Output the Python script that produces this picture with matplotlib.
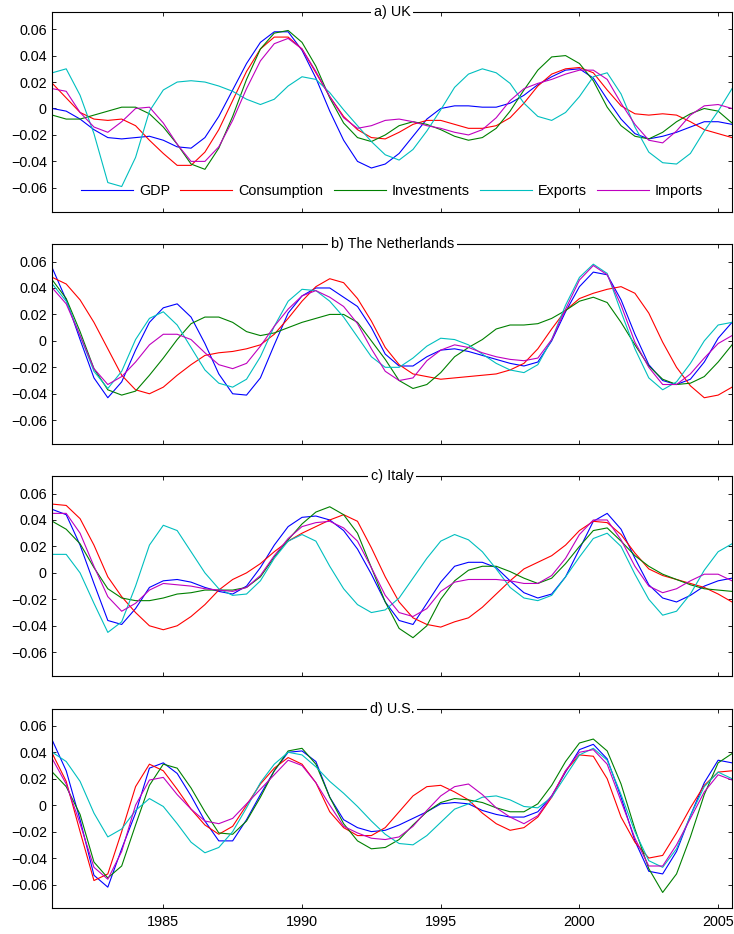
#!/usr/bin/env python3
"""Business-cycle components (GDP, consumption, investments, exports, imports) for four countries."""

import numpy as np
import matplotlib

matplotlib.use("Agg")
import matplotlib.pyplot as plt
from matplotlib.ticker import FuncFormatter

# half-year sampling, values in units of 0.001
years = np.arange(1981.0, 2006.0, 0.5)

uk_gdp = [0, -2, -8, -16, -22, -23, -22, -21, -24, -29,
          -30, -22, -6, 14, 34, 50, 58, 58, 44, 23,
          -2, -24, -40, -45, -42, -34, -21, -8, 0, 2,
          2, 1, 1, 4, 10, 18, 24, 29, 30, 23,
          7, -8, -19, -23, -21, -18, -14, -10, -10, -12]
uk_cons = [19, 8, -3, -8, -9, -8, -13, -24, -34, -43,
           -43, -33, -16, 6, 28, 45, 54, 54, 45, 27,
           9, -6, -16, -22, -23, -18, -12, -9, -9, -12,
           -15, -15, -13, -7, 4, 17, 26, 30, 31, 27,
           14, 2, -4, -5, -4, -5, -10, -16, -19, -22]
uk_inv = [-5, -8, -8, -5, -2, 1, 1, -4, -14, -27,
          -42, -46, -30, -6, 22, 45, 57, 59, 50, 32,
          8, -11, -22, -25, -20, -13, -10, -12, -16, -21,
          -24, -22, -15, -2, 14, 29, 39, 40, 34, 21,
          1, -13, -21, -23, -18, -10, -4, 0, -2, -11]
uk_exp = [27, 30, 10, -19, -56, -59, -37, -2, 14, 20,
          21, 20, 17, 13, 7, 3, 7, 17, 24, 22,
          12, -1, -13, -25, -35, -39, -31, -17, -1, 16,
          26, 30, 27, 19, 4, -6, -9, -3, 9, 24,
          27, 11, -14, -33, -41, -42, -34, -17, -2, 15]
uk_imp = [15, 13, -3, -14, -18, -10, 0, 1, -11, -27,
          -40, -40, -29, -9, 15, 36, 49, 53, 45, 28,
          9, -7, -15, -13, -9, -8, -10, -13, -15, -18,
          -20, -16, -7, 6, 15, 19, 22, 26, 29, 29,
          22, 4, -12, -24, -26, -17, -5, 2, 3, 0]

nl_gdp = [55, 31, 1, -28, -43, -31, -7, 14, 25, 28,
          18, -2, -25, -40, -41, -28, -3, 21, 34, 40,
          40, 33, 26, 10, -10, -19, -19, -12, -7, -6,
          -8, -11, -14, -17, -19, -16, 0, 22, 41, 52,
          50, 31, 5, -18, -30, -33, -29, -16, 2, 14]
nl_cons = [48, 43, 31, 14, -6, -26, -37, -40, -35, -26,
           -18, -11, -9, -8, -6, -3, 5, 17, 30, 41,
           47, 44, 32, 15, -5, -18, -25, -27, -29, -28,
           -27, -26, -25, -22, -17, -6, 9, 23, 32, 36,
           39, 41, 36, 21, -1, -20, -34, -43, -41, -35]
nl_inv = [46, 32, 7, -21, -37, -41, -38, -26, -13, 1,
          13, 18, 18, 14, 7, 4, 6, 10, 14, 17,
          20, 20, 14, 0, -14, -30, -36, -33, -24, -12,
          -5, 1, 9, 12, 12, 13, 17, 23, 30, 33,
          29, 14, -3, -19, -29, -33, -32, -27, -16, -3]
nl_exp = [43, 30, 4, -23, -36, -23, 1, 17, 22, 12,
          -5, -22, -32, -35, -29, -12, 11, 30, 39, 38,
          30, 18, 3, -12, -20, -20, -13, -4, 2, 1,
          -3, -10, -17, -22, -24, -18, 1, 27, 48, 58,
          51, 22, -6, -28, -37, -31, -17, 0, 12, 14]
nl_imp = [40, 28, 4, -21, -33, -27, -16, -3, 5, 5,
          1, -9, -18, -21, -17, -4, 11, 24, 34, 38,
          33, 26, 13, -6, -23, -30, -28, -15, -7, -3,
          -5, -9, -12, -14, -15, -13, 1, 24, 46, 57,
          50, 27, -1, -20, -33, -33, -25, -13, -2, 4]

it_gdp = [48, 44, 21, -8, -36, -39, -27, -11, -6, -5,
          -7, -11, -14, -16, -10, 4, 21, 35, 42, 43,
          40, 32, 18, -1, -22, -36, -39, -23, -7, 5,
          8, 8, 4, -6, -15, -19, -16, -3, 18, 39,
          45, 33, 11, -9, -19, -22, -17, -10, -6, -4]
it_cons = [52, 51, 41, 21, -3, -18, -30, -40, -43, -40,
           -33, -24, -13, -5, 0, 7, 16, 24, 30, 35,
           40, 44, 39, 19, -3, -22, -34, -39, -41, -37,
           -34, -26, -16, -6, 3, 8, 13, 21, 32, 39,
           38, 29, 15, 3, -2, -5, -8, -11, -16, -22]
it_inv = [39, 33, 22, 4, -12, -19, -21, -21, -19, -16,
          -15, -13, -13, -13, -11, -3, 12, 25, 37, 46,
          50, 44, 30, 4, -22, -42, -49, -40, -20, -6,
          2, 5, 5, 1, -4, -8, -4, 7, 20, 32,
          34, 24, 13, 5, -1, -5, -9, -12, -13, -14]
it_exp = [14, 14, 0, -23, -45, -37, -10, 21, 36, 32,
          16, 0, -12, -17, -16, -6, 11, 24, 29, 24,
          5, -12, -24, -30, -28, -19, -4, 11, 24, 29,
          25, 16, 3, -11, -19, -21, -17, -3, 12, 26,
          30, 20, -1, -20, -32, -29, -16, 2, 16, 22]
it_imp = [45, 45, 30, 5, -18, -29, -23, -13, -8, -9,
          -10, -12, -13, -14, -11, -2, 13, 26, 35, 38,
          39, 34, 24, 4, -17, -30, -33, -27, -14, -7,
          -5, -5, -5, -6, -8, -8, -2, 11, 29, 40,
          40, 25, 5, -10, -15, -12, -6, -1, -1, -6]

us_gdp = [49, 26, -11, -53, -62, -33, -6, 28, 32, 24,
          7, -12, -27, -27, -11, 8, 26, 40, 41, 33,
          6, -11, -17, -20, -19, -15, -10, -5, 1, 2,
          1, -4, -7, -9, -9, -5, 7, 25, 42, 46,
          35, 6, -27, -50, -52, -35, -8, 17, 34, 32]
us_cons = [39, 18, -20, -57, -52, -20, 14, 31, 26, 12,
           -3, -15, -22, -16, 0, 16, 28, 36, 31, 17,
           -5, -17, -23, -23, -17, -5, 7, 14, 15, 10,
           4, -6, -14, -19, -17, -9, 6, 26, 38, 37,
           20, -9, -28, -40, -38, -21, -2, 15, 25, 26]
us_inv = [25, 14, -7, -43, -55, -46, -15, 15, 31, 28,
          13, -5, -21, -22, -12, 6, 26, 41, 43, 31,
          6, -14, -27, -33, -32, -26, -15, -5, 2, 5,
          4, 2, -2, -5, -5, 1, 15, 33, 47, 50,
          41, 16, -18, -48, -66, -52, -24, 8, 32, 39]
us_exp = [40, 33, 18, -6, -24, -18, -4, 5, -1, -14,
          -28, -36, -32, -20, -2, 17, 31, 40, 38, 29,
          18, 9, -1, -12, -22, -29, -30, -23, -13, -3,
          1, 6, 7, 4, -1, -2, 6, 22, 38, 43,
          34, 8, -20, -42, -47, -33, -8, 14, 25, 20]
us_imp = [35, 16, -14, -47, -56, -35, 0, 19, 21, 8,
          -3, -12, -14, -10, 1, 12, 23, 34, 30, 17,
          0, -16, -21, -25, -26, -24, -16, -4, 7, 14,
          16, 8, -2, -9, -14, -8, 7, 26, 40, 42,
          31, 3, -25, -46, -46, -30, -10, 10, 23, 19]

series_names = ["GDP", "Consumption", "Investments", "Exports", "Imports"]
series_colors = ["#0000ff", "#ff0000", "#008000", "#00bfbf", "#bf00bf"]
panel_titles = ["a) UK", "b) The Netherlands", "c) Italy", "d) U.S."]
year_ticks = [1985, 1990, 1995, 2000, 2005]
value_ticks = [-0.06, -0.04, -0.02, 0.0, 0.02, 0.04, 0.06]

FONT = 10.4


def fmt_value(v, _pos):
    if abs(v) < 1e-9:
        return "0"
    return f"{v:.2f}".replace("-", "\u2212")


def draw_panel(ax, title, data, show_legend, show_years):
    for values, name, color in zip(data, series_names, series_colors):
        ax.plot(years, np.array(values) * 1e-3, color=color, lw=0.8, label=name)

    ax.set_xlim(1981.0, 2005.5)
    ax.set_ylim(-0.078, 0.073)
    ax.set_xticks(year_ticks)
    ax.set_yticks(value_ticks)
    ax.yaxis.set_major_formatter(FuncFormatter(fmt_value))
    ax.tick_params(direction="in", length=3, width=0.6, top=True, right=True,
                   labelsize=FONT, pad=4)
    ax.tick_params(axis="x", pad=5)
    if not show_years:
        ax.set_xticklabels([])
    for spine in ax.spines.values():
        spine.set_linewidth(0.8)

    ax.text(0.5, 1.0, title, transform=ax.transAxes, ha="center", va="center",
            fontsize=FONT, zorder=5,
            bbox=dict(boxstyle="square,pad=0.2", fc="white", ec="none"))

    if show_legend:
        ax.legend(loc="center", bbox_to_anchor=(0.5, 0.104), ncol=5, frameon=False,
                  fontsize=FONT, handlelength=3.6, handletextpad=0.42,
                  columnspacing=0.7, borderaxespad=0.0, borderpad=0.0)


def main():
    plt.rcParams["font.family"] = ["Liberation Sans", "DejaVu Sans"]
    fig = plt.figure(figsize=(7.34, 9.34), dpi=100)

    panels = [
        (0.7734, [uk_gdp, uk_cons, uk_inv, uk_exp, uk_imp]),
        (0.5246, [nl_gdp, nl_cons, nl_inv, nl_exp, nl_imp]),
        (0.2762, [it_gdp, it_cons, it_inv, it_exp, it_imp]),
        (0.0275, [us_gdp, us_cons, us_inv, us_exp, us_imp]),
    ]
    for i, (bottom, data) in enumerate(panels):
        ax = fig.add_axes([0.0713, bottom, 0.926, 0.2138])
        draw_panel(ax, panel_titles[i], data, show_legend=(i == 0), show_years=(i == 3))

    fig.savefig("out.png", dpi=100)
    plt.close(fig)


if __name__ == "__main__":
    main()
